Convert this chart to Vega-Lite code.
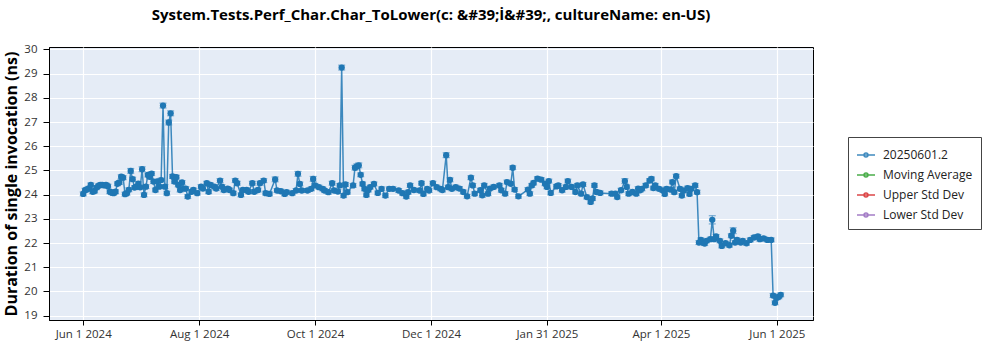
{
  "$schema": "https://vega.github.io/schema/vega-lite/v6.json",
  "width": 764,
  "height": 273,
  "autosize": {"type": "none"},
  "padding": {"left": 49, "top": 47, "right": 187, "bottom": 30},
  "background": "white",
  "title": {"text": "System.Tests.Perf_Char.Char_ToLower(c: &#39;İ&#39;, cultureName: en-US)", "font": "Open Sans", "fontSize": 15, "fontWeight": "bold", "color": "black", "anchor": "middle", "offset": 20},
  "config": {
    "view": {"fill": "#e5ecf6", "stroke": "black", "strokeWidth": 1},
    "axis": {"labelFont": "Open Sans", "titleFont": "Open Sans", "gridColor": "white", "gridWidth": 1.2, "domainColor": "black", "domainWidth": 1, "tickColor": "black", "labelColor": "#333", "labelFontSize": 11.5}
  },
  "data": {"values": [
    {"date": "2024-06-01", "value": 24.03, "err": 0.08},
    {"date": "2024-06-02", "value": 24.18, "err": 0.08},
    {"date": "2024-06-03", "value": 24.22, "err": 0.08},
    {"date": "2024-06-04", "value": 24.26, "err": 0.08},
    {"date": "2024-06-05", "value": 24.40, "err": 0.08},
    {"date": "2024-06-06", "value": 24.12, "err": 0.08},
    {"date": "2024-06-07", "value": 24.15, "err": 0.08},
    {"date": "2024-06-08", "value": 24.29, "err": 0.08},
    {"date": "2024-06-09", "value": 24.36, "err": 0.08},
    {"date": "2024-06-10", "value": 24.40, "err": 0.08},
    {"date": "2024-06-11", "value": 24.40, "err": 0.08},
    {"date": "2024-06-12", "value": 24.38, "err": 0.08},
    {"date": "2024-06-13", "value": 24.40, "err": 0.08},
    {"date": "2024-06-14", "value": 24.35, "err": 0.08},
    {"date": "2024-06-15", "value": 24.12, "err": 0.08},
    {"date": "2024-06-16", "value": 24.08, "err": 0.08},
    {"date": "2024-06-17", "value": 24.06, "err": 0.08},
    {"date": "2024-06-18", "value": 24.12, "err": 0.08},
    {"date": "2024-06-19", "value": 24.45, "err": 0.08},
    {"date": "2024-06-20", "value": 24.50, "err": 0.08},
    {"date": "2024-06-21", "value": 24.74, "err": 0.08},
    {"date": "2024-06-22", "value": 24.70, "err": 0.08},
    {"date": "2024-06-23", "value": 24.02, "err": 0.08},
    {"date": "2024-06-24", "value": 24.06, "err": 0.08},
    {"date": "2024-06-25", "value": 24.20, "err": 0.08},
    {"date": "2024-06-26", "value": 24.98, "err": 0.1},
    {"date": "2024-06-27", "value": 24.64, "err": 0.08},
    {"date": "2024-06-28", "value": 24.29, "err": 0.08},
    {"date": "2024-06-29", "value": 24.33, "err": 0.08},
    {"date": "2024-06-30", "value": 24.45, "err": 0.08},
    {"date": "2024-07-01", "value": 24.30, "err": 0.08},
    {"date": "2024-07-02", "value": 25.05, "err": 0.1},
    {"date": "2024-07-03", "value": 23.99, "err": 0.08},
    {"date": "2024-07-04", "value": 24.33, "err": 0.08},
    {"date": "2024-07-05", "value": 24.81, "err": 0.08},
    {"date": "2024-07-06", "value": 24.74, "err": 0.08},
    {"date": "2024-07-07", "value": 24.87, "err": 0.08},
    {"date": "2024-07-08", "value": 24.54, "err": 0.08},
    {"date": "2024-07-09", "value": 24.19, "err": 0.08},
    {"date": "2024-07-10", "value": 24.55, "err": 0.08},
    {"date": "2024-07-11", "value": 24.33, "err": 0.08},
    {"date": "2024-07-12", "value": 24.60, "err": 0.08},
    {"date": "2024-07-13", "value": 27.68, "err": 0.1},
    {"date": "2024-07-14", "value": 24.33, "err": 0.08},
    {"date": "2024-07-15", "value": 24.06, "err": 0.08},
    {"date": "2024-07-16", "value": 26.98, "err": 0.1},
    {"date": "2024-07-17", "value": 27.36, "err": 0.1},
    {"date": "2024-07-18", "value": 24.75, "err": 0.08},
    {"date": "2024-07-19", "value": 24.54, "err": 0.08},
    {"date": "2024-07-20", "value": 24.72, "err": 0.08},
    {"date": "2024-07-21", "value": 24.40, "err": 0.08},
    {"date": "2024-07-22", "value": 24.19, "err": 0.08},
    {"date": "2024-07-23", "value": 24.50, "err": 0.08},
    {"date": "2024-07-24", "value": 24.25, "err": 0.08},
    {"date": "2024-07-25", "value": 24.25, "err": 0.08},
    {"date": "2024-07-26", "value": 23.92, "err": 0.08},
    {"date": "2024-07-28", "value": 24.12, "err": 0.08},
    {"date": "2024-07-29", "value": 24.19, "err": 0.08},
    {"date": "2024-07-31", "value": 24.06, "err": 0.08},
    {"date": "2024-08-02", "value": 24.33, "err": 0.08},
    {"date": "2024-08-03", "value": 24.25, "err": 0.08},
    {"date": "2024-08-05", "value": 24.47, "err": 0.08},
    {"date": "2024-08-06", "value": 24.12, "err": 0.08},
    {"date": "2024-08-07", "value": 24.40, "err": 0.08},
    {"date": "2024-08-09", "value": 24.33, "err": 0.08},
    {"date": "2024-08-10", "value": 24.25, "err": 0.08},
    {"date": "2024-08-12", "value": 24.58, "err": 0.08},
    {"date": "2024-08-13", "value": 24.33, "err": 0.08},
    {"date": "2024-08-14", "value": 24.19, "err": 0.08},
    {"date": "2024-08-16", "value": 24.25, "err": 0.08},
    {"date": "2024-08-17", "value": 24.19, "err": 0.08},
    {"date": "2024-08-19", "value": 24.06, "err": 0.08},
    {"date": "2024-08-20", "value": 24.58, "err": 0.08},
    {"date": "2024-08-21", "value": 24.47, "err": 0.08},
    {"date": "2024-08-23", "value": 23.99, "err": 0.08},
    {"date": "2024-08-24", "value": 24.19, "err": 0.08},
    {"date": "2024-08-26", "value": 24.19, "err": 0.08},
    {"date": "2024-08-27", "value": 24.12, "err": 0.08},
    {"date": "2024-08-29", "value": 24.47, "err": 0.08},
    {"date": "2024-08-30", "value": 24.12, "err": 0.08},
    {"date": "2024-09-01", "value": 24.19, "err": 0.08},
    {"date": "2024-09-02", "value": 24.47, "err": 0.08},
    {"date": "2024-09-04", "value": 24.58, "err": 0.08},
    {"date": "2024-09-05", "value": 24.06, "err": 0.08},
    {"date": "2024-09-07", "value": 24.03, "err": 0.08},
    {"date": "2024-09-10", "value": 24.63, "err": 0.1},
    {"date": "2024-09-11", "value": 24.17, "err": 0.08},
    {"date": "2024-09-13", "value": 24.14, "err": 0.08},
    {"date": "2024-09-15", "value": 24.03, "err": 0.08},
    {"date": "2024-09-16", "value": 24.10, "err": 0.08},
    {"date": "2024-09-19", "value": 24.06, "err": 0.08},
    {"date": "2024-09-21", "value": 24.17, "err": 0.08},
    {"date": "2024-09-22", "value": 24.86, "err": 0.1},
    {"date": "2024-09-23", "value": 24.44, "err": 0.08},
    {"date": "2024-09-24", "value": 24.17, "err": 0.08},
    {"date": "2024-09-27", "value": 24.17, "err": 0.08},
    {"date": "2024-09-29", "value": 24.24, "err": 0.08},
    {"date": "2024-09-30", "value": 24.65, "err": 0.1},
    {"date": "2024-10-01", "value": 24.38, "err": 0.08},
    {"date": "2024-10-03", "value": 24.31, "err": 0.08},
    {"date": "2024-10-05", "value": 24.24, "err": 0.08},
    {"date": "2024-10-06", "value": 24.17, "err": 0.08},
    {"date": "2024-10-08", "value": 24.10, "err": 0.08},
    {"date": "2024-10-10", "value": 24.47, "err": 0.08},
    {"date": "2024-10-11", "value": 24.17, "err": 0.08},
    {"date": "2024-10-13", "value": 24.13, "err": 0.08},
    {"date": "2024-10-14", "value": 24.38, "err": 0.08},
    {"date": "2024-10-15", "value": 29.25, "err": 0.1},
    {"date": "2024-10-16", "value": 23.96, "err": 0.08},
    {"date": "2024-10-17", "value": 24.42, "err": 0.08},
    {"date": "2024-10-18", "value": 24.10, "err": 0.08},
    {"date": "2024-10-21", "value": 24.38, "err": 0.08},
    {"date": "2024-10-22", "value": 25.11, "err": 0.1},
    {"date": "2024-10-23", "value": 25.17, "err": 0.1},
    {"date": "2024-10-24", "value": 25.21, "err": 0.1},
    {"date": "2024-10-25", "value": 24.82, "err": 0.08},
    {"date": "2024-10-26", "value": 24.44, "err": 0.08},
    {"date": "2024-10-27", "value": 24.24, "err": 0.08},
    {"date": "2024-10-28", "value": 23.99, "err": 0.08},
    {"date": "2024-10-29", "value": 24.19, "err": 0.08},
    {"date": "2024-10-30", "value": 24.31, "err": 0.08},
    {"date": "2024-11-01", "value": 24.44, "err": 0.08},
    {"date": "2024-11-03", "value": 24.07, "err": 0.08},
    {"date": "2024-11-05", "value": 24.24, "err": 0.08},
    {"date": "2024-11-07", "value": 23.96, "err": 0.08},
    {"date": "2024-11-09", "value": 24.24, "err": 0.08},
    {"date": "2024-11-11", "value": 24.24, "err": 0.08},
    {"date": "2024-11-14", "value": 24.17, "err": 0.08},
    {"date": "2024-11-16", "value": 24.06, "err": 0.08},
    {"date": "2024-11-18", "value": 23.92, "err": 0.08},
    {"date": "2024-11-19", "value": 24.10, "err": 0.08},
    {"date": "2024-11-20", "value": 24.38, "err": 0.08},
    {"date": "2024-11-22", "value": 24.19, "err": 0.08},
    {"date": "2024-11-25", "value": 24.17, "err": 0.08},
    {"date": "2024-11-26", "value": 24.47, "err": 0.08},
    {"date": "2024-11-27", "value": 24.03, "err": 0.08},
    {"date": "2024-11-29", "value": 24.24, "err": 0.08},
    {"date": "2024-11-30", "value": 24.17, "err": 0.08},
    {"date": "2024-12-02", "value": 24.47, "err": 0.08},
    {"date": "2024-12-04", "value": 24.31, "err": 0.08},
    {"date": "2024-12-06", "value": 24.24, "err": 0.08},
    {"date": "2024-12-07", "value": 24.19, "err": 0.08},
    {"date": "2024-12-09", "value": 25.63, "err": 0.1},
    {"date": "2024-12-10", "value": 24.31, "err": 0.08},
    {"date": "2024-12-11", "value": 24.61, "err": 0.08},
    {"date": "2024-12-12", "value": 24.24, "err": 0.08},
    {"date": "2024-12-14", "value": 24.31, "err": 0.08},
    {"date": "2024-12-16", "value": 24.25, "err": 0.08},
    {"date": "2024-12-18", "value": 24.11, "err": 0.08},
    {"date": "2024-12-20", "value": 23.93, "err": 0.08},
    {"date": "2024-12-22", "value": 24.70, "err": 0.08},
    {"date": "2024-12-23", "value": 24.38, "err": 0.08},
    {"date": "2024-12-24", "value": 24.04, "err": 0.08},
    {"date": "2024-12-27", "value": 24.18, "err": 0.08},
    {"date": "2024-12-28", "value": 23.97, "err": 0.08},
    {"date": "2024-12-29", "value": 24.38, "err": 0.08},
    {"date": "2024-12-31", "value": 24.04, "err": 0.08},
    {"date": "2025-01-01", "value": 24.25, "err": 0.08},
    {"date": "2025-01-03", "value": 24.32, "err": 0.08},
    {"date": "2025-01-06", "value": 24.38, "err": 0.08},
    {"date": "2025-01-07", "value": 24.18, "err": 0.08},
    {"date": "2025-01-09", "value": 24.04, "err": 0.08},
    {"date": "2025-01-10", "value": 24.52, "err": 0.08},
    {"date": "2025-01-12", "value": 24.45, "err": 0.08},
    {"date": "2025-01-13", "value": 25.11, "err": 0.08},
    {"date": "2025-01-14", "value": 24.21, "err": 0.08},
    {"date": "2025-01-16", "value": 23.93, "err": 0.08},
    {"date": "2025-01-21", "value": 24.21, "err": 0.08},
    {"date": "2025-01-22", "value": 24.04, "err": 0.08},
    {"date": "2025-01-23", "value": 24.38, "err": 0.08},
    {"date": "2025-01-24", "value": 24.48, "err": 0.08},
    {"date": "2025-01-26", "value": 24.66, "err": 0.08},
    {"date": "2025-01-28", "value": 24.62, "err": 0.08},
    {"date": "2025-01-30", "value": 24.45, "err": 0.08},
    {"date": "2025-01-31", "value": 24.32, "err": 0.08},
    {"date": "2025-02-01", "value": 24.56, "err": 0.08},
    {"date": "2025-02-02", "value": 24.07, "err": 0.08},
    {"date": "2025-02-05", "value": 24.34, "err": 0.08},
    {"date": "2025-02-06", "value": 24.38, "err": 0.08},
    {"date": "2025-02-08", "value": 24.18, "err": 0.08},
    {"date": "2025-02-10", "value": 24.32, "err": 0.08},
    {"date": "2025-02-11", "value": 24.56, "err": 0.08},
    {"date": "2025-02-13", "value": 24.32, "err": 0.08},
    {"date": "2025-02-15", "value": 24.11, "err": 0.08},
    {"date": "2025-02-16", "value": 24.38, "err": 0.08},
    {"date": "2025-02-18", "value": 24.04, "err": 0.08},
    {"date": "2025-02-19", "value": 24.42, "err": 0.08},
    {"date": "2025-02-21", "value": 23.90, "err": 0.08},
    {"date": "2025-02-23", "value": 23.70, "err": 0.08},
    {"date": "2025-02-24", "value": 23.84, "err": 0.08},
    {"date": "2025-02-25", "value": 24.38, "err": 0.08},
    {"date": "2025-02-26", "value": 24.11, "err": 0.08},
    {"date": "2025-02-28", "value": 24.07, "err": 0.08},
    {"date": "2025-03-06", "value": 24.04, "err": 0.08},
    {"date": "2025-03-08", "value": 24.04, "err": 0.08},
    {"date": "2025-03-09", "value": 23.90, "err": 0.08},
    {"date": "2025-03-11", "value": 24.18, "err": 0.08},
    {"date": "2025-03-13", "value": 24.56, "err": 0.1},
    {"date": "2025-03-14", "value": 24.32, "err": 0.08},
    {"date": "2025-03-15", "value": 24.04, "err": 0.08},
    {"date": "2025-03-17", "value": 24.11, "err": 0.08},
    {"date": "2025-03-19", "value": 24.04, "err": 0.08},
    {"date": "2025-03-20", "value": 24.25, "err": 0.08},
    {"date": "2025-03-21", "value": 24.18, "err": 0.08},
    {"date": "2025-03-22", "value": 24.24, "err": 0.08},
    {"date": "2025-03-24", "value": 24.38, "err": 0.08},
    {"date": "2025-03-26", "value": 24.58, "err": 0.08},
    {"date": "2025-03-27", "value": 24.65, "err": 0.08},
    {"date": "2025-03-28", "value": 24.27, "err": 0.08},
    {"date": "2025-03-29", "value": 24.38, "err": 0.08},
    {"date": "2025-03-31", "value": 24.24, "err": 0.08},
    {"date": "2025-04-02", "value": 24.17, "err": 0.08},
    {"date": "2025-04-03", "value": 24.03, "err": 0.08},
    {"date": "2025-04-04", "value": 24.24, "err": 0.08},
    {"date": "2025-04-06", "value": 24.21, "err": 0.08},
    {"date": "2025-04-07", "value": 24.52, "err": 0.08},
    {"date": "2025-04-08", "value": 24.10, "err": 0.08},
    {"date": "2025-04-09", "value": 24.76, "err": 0.08},
    {"date": "2025-04-11", "value": 24.24, "err": 0.08},
    {"date": "2025-04-12", "value": 23.96, "err": 0.08},
    {"date": "2025-04-13", "value": 24.17, "err": 0.08},
    {"date": "2025-04-15", "value": 24.27, "err": 0.08},
    {"date": "2025-04-16", "value": 24.03, "err": 0.08},
    {"date": "2025-04-17", "value": 24.24, "err": 0.08},
    {"date": "2025-04-19", "value": 24.38, "err": 0.08},
    {"date": "2025-04-20", "value": 24.10, "err": 0.08},
    {"date": "2025-04-21", "value": 22.02, "err": 0.08},
    {"date": "2025-04-22", "value": 22.13, "err": 0.08},
    {"date": "2025-04-23", "value": 22.02, "err": 0.08},
    {"date": "2025-04-24", "value": 21.98, "err": 0.08},
    {"date": "2025-04-25", "value": 22.09, "err": 0.08},
    {"date": "2025-04-27", "value": 22.16, "err": 0.08},
    {"date": "2025-04-28", "value": 22.96, "err": 0.17},
    {"date": "2025-04-29", "value": 22.16, "err": 0.08},
    {"date": "2025-04-30", "value": 22.27, "err": 0.08},
    {"date": "2025-05-02", "value": 22.09, "err": 0.08},
    {"date": "2025-05-03", "value": 21.88, "err": 0.08},
    {"date": "2025-05-05", "value": 21.99, "err": 0.08},
    {"date": "2025-05-07", "value": 21.91, "err": 0.08},
    {"date": "2025-05-08", "value": 22.30, "err": 0.08},
    {"date": "2025-05-09", "value": 22.51, "err": 0.12},
    {"date": "2025-05-10", "value": 22.02, "err": 0.08},
    {"date": "2025-05-11", "value": 22.13, "err": 0.08},
    {"date": "2025-05-13", "value": 22.02, "err": 0.08},
    {"date": "2025-05-14", "value": 22.09, "err": 0.08},
    {"date": "2025-05-16", "value": 21.99, "err": 0.08},
    {"date": "2025-05-18", "value": 22.13, "err": 0.08},
    {"date": "2025-05-20", "value": 22.23, "err": 0.08},
    {"date": "2025-05-22", "value": 22.27, "err": 0.08},
    {"date": "2025-05-23", "value": 22.16, "err": 0.08},
    {"date": "2025-05-25", "value": 22.19, "err": 0.08},
    {"date": "2025-05-27", "value": 22.13, "err": 0.08},
    {"date": "2025-05-29", "value": 22.13, "err": 0.08},
    {"date": "2025-05-30", "value": 19.83, "err": 0.08},
    {"date": "2025-05-31", "value": 19.53, "err": 0.08},
    {"date": "2025-06-01", "value": 19.74, "err": 0.08},
    {"date": "2025-06-02", "value": 19.78, "err": 0.08},
    {"date": "2025-06-03", "value": 19.86, "err": 0.08}
  ]},
  "encoding": {
    "x": {
      "field": "date", "type": "temporal",
      "scale": {"type": "utc", "domain": [{"year": 2024, "month": 5, "date": 14, "utc": true}, {"year": 2025, "month": 6, "date": 20, "utc": true}]},
      "axis": {
        "title": null, "format": "%b %-d %Y", "tickSize": 5, "labelPadding": 3, "labelFlush": false,
        "values": [
          {"year": 2024, "month": 6, "date": 1, "utc": true},
          {"year": 2024, "month": 8, "date": 1, "utc": true},
          {"year": 2024, "month": 10, "date": 1, "utc": true},
          {"year": 2024, "month": 12, "date": 1, "utc": true},
          {"year": 2025, "month": 1, "date": 31, "utc": true},
          {"year": 2025, "month": 4, "date": 1, "utc": true},
          {"year": 2025, "month": 6, "date": 1, "utc": true}
        ]
      }
    },
    "y": {
      "field": "value", "type": "quantitative",
      "scale": {"domain": [18.82, 30.1], "nice": false, "zero": false},
      "axis": {
        "title": "Duration of single invocation (ns)", "titleFontSize": 16, "titleFontWeight": "bold", "titleColor": "black", "titlePadding": 4,
        "values": [19, 20, 21, 22, 23, 24, 25, 26, 27, 28, 29, 30], "tickSize": 6, "labelPadding": 6
      }
    }
  },
  "layer": [
    {
      "mark": {"type": "line", "strokeWidth": 1.5, "opacity": 0.85},
      "encoding": {
        "color": {
          "datum": "20250601.2",
          "scale": {"domain": ["20250601.2", "Moving Average", "Upper Std Dev", "Lower Std Dev"], "range": ["#1f77b4", "#2ca02c", "#d62728", "#9467bd"]},
          "legend": {
            "orient": "none", "legendX": 799, "legendY": 90, "title": null,
            "strokeColor": "#444", "fillColor": "white", "padding": 8, "cornerRadius": 0,
            "symbolType": "M-1,0H1M-0.22,0A0.22,0.22,0,1,1,0.22,0A0.22,0.22,0,1,1,-0.22,0Z",
            "symbolSize": 324, "symbolStrokeWidth": 1.5,
            "labelFont": "Open Sans", "labelFontSize": 12, "labelColor": "#222", "rowPadding": 4, "labelOffset": 7,
            "encode": {"symbols": {"update": {"fill": {"scale": "color", "field": "value"}, "fillOpacity": {"value": 1}, "opacity": {"value": 1}}}}
          }
        }
      }
    },
    {
      "mark": {"type": "errorbar", "ticks": {"size": 7}, "color": "#1f77b4", "opacity": 0.55, "thickness": 1.2},
      "encoding": {"yError": {"field": "err"}}
    },
    {
      "mark": {"type": "point", "filled": true, "size": 40, "color": "#1f77b4", "opacity": 1}
    }
  ]
}
